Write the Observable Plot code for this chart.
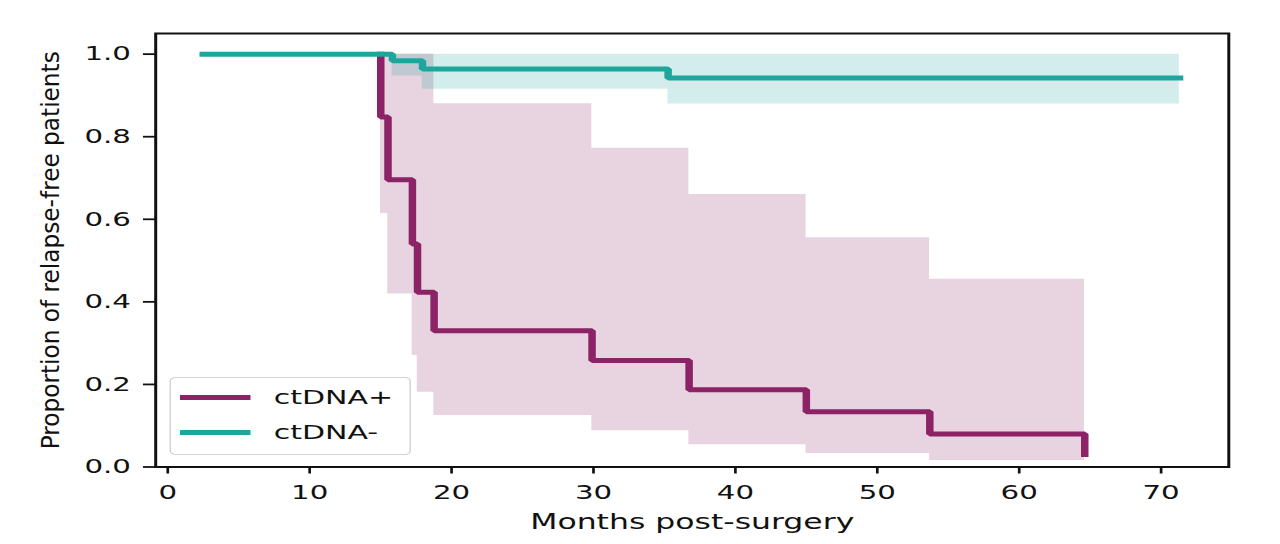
<!DOCTYPE html>
<html><head><meta charset="utf-8">
<script src="https://cdn.jsdelivr.net/npm/d3@7"></script>
<script src="https://cdn.jsdelivr.net/npm/@observablehq/plot@0.6"></script>
<style>
html,body{margin:0;padding:0;background:#fff;overflow:hidden}
#wrap{position:relative;width:853.33px;height:544px;transform:scale(1.5,1);transform-origin:0 0}
#legend{position:absolute;left:113.3px;top:377px;width:160.5px;height:78px;border:1px solid #d4d4d4;border-radius:4px;background:rgba(255,255,255,0.8);box-sizing:border-box;font-family:"DejaVu Sans";font-size:20px;color:#111}
.row{position:absolute;left:0;height:30px;display:flex;align-items:center}
.sw{width:46.7px;height:5px;margin-left:6.2px;margin-right:15.3px}
</style></head><body><div id="wrap"><div id="legend"></div></div>
<script>
// ctDNA+ Kaplan-Meier curve
const posTimes = [15.01, 15.01, 15.52, 17.24, 17.60, 18.77, 29.9, 36.74, 45.0, 53.7, 64.62];
const posSurv  = [1.0, 0.848, 0.696, 0.540, 0.423, 0.330, 0.258, 0.187, 0.134, 0.080, 0.030];
// ctDNA+ confidence band
const posCiTimes = [15.01, 15.52, 17.24, 17.60, 18.77, 29.9, 36.74, 45.0, 53.7, 64.62];
const posUpper   = [1.0, 1.0, 1.0, 1.0, 0.880, 0.772, 0.660, 0.555, 0.455, 0.455];
const posLower   = [0.614, 0.419, 0.270, 0.181, 0.125, 0.088, 0.054, 0.033, 0.016, 0.016];
// ctDNA- Kaplan-Meier curve
const negTimes = [2.5, 15.83, 17.95, 35.26, 71.3];
const negSurv  = [1.0, 0.984, 0.964, 0.942, 0.942];
// ctDNA- confidence band
const negCiTimes = [2.5, 15.83, 17.95, 35.26, 71.3];
const negUpper   = [1.0, 1.0, 1.0, 1.0, 1.0];
const negLower   = [1.0, 0.947, 0.915, 0.879, 0.879];

const xTicks = [0, 10, 20, 30, 40, 50, 60, 70];
const yTicks = [0, 0.2, 0.4, 0.6, 0.8, 1.0];
const seriesNames = ["ctDNA+", "ctDNA-"];
const seriesColors = ["#8B2366", "#1EA69C"];
const xLabel = "Months post-surgery";
const yLabel = "Proportion of relapse-free patients";

const chart = Plot.plot({
  width: 853,
  height: 544,
  marginTop: 33,
  marginBottom: 77.5,
  marginLeft: 103.3,
  marginRight: 34.3,
  x: {domain: [-0.85, 74.77]},
  y: {domain: [0, 1.05]},
  style: {fontFamily: "DejaVu Sans", fontSize: "19.5px", color: "#111", background: "#fff"},
  marks: [
    Plot.areaY(posCiTimes, {x: posCiTimes, y1: posLower, y2: posUpper, curve: "step-after", fill: seriesColors[0], fillOpacity: 0.2}),
    Plot.areaY(negCiTimes, {x: negCiTimes, y1: negLower, y2: negUpper, curve: "step-after", fill: seriesColors[1], fillOpacity: 0.2}),
    Plot.line(posTimes, {x: posTimes, y: posSurv, curve: "step-after", stroke: seriesColors[0], strokeWidth: 5, strokeLinecap: "square", strokeLinejoin: "miter"}),
    Plot.line(negTimes, {x: negTimes, y: negSurv, curve: "step-after", stroke: seriesColors[1], strokeWidth: 5, strokeLinecap: "square", strokeLinejoin: "miter"}),
    Plot.frame({stroke: "#111", strokeWidth: 2}),
    Plot.axisX({ticks: xTicks, tickSize: 7, tickPadding: 11, tickFormat: d => String(d), label: null, strokeWidth: 1.8}),
    Plot.axisY({ticks: yTicks, tickSize: 8, tickPadding: 8.5, tickFormat: d => d.toFixed(1), label: null, strokeWidth: 1.8}),
    Plot.text([yLabel], {frameAnchor: "left", dx: -70, rotate: -90, fontSize: 17, fill: "#111"}),
    Plot.text([xLabel], {frameAnchor: "bottom", dy: 61.5, fontSize: 21, fill: "#111"})
  ]
});

chart.querySelectorAll("text").forEach(t => {
  if (t.textContent === yLabel) {
    t.setAttribute("text-anchor", "start");
    t.setAttribute("x", -199);
    t.setAttribute("textLength", 398);
    t.setAttribute("lengthAdjust", "spacingAndGlyphs");
  }
});

const wrap = document.getElementById("wrap");
wrap.insertBefore(chart, wrap.firstChild);

const legend = document.getElementById("legend");
seriesNames.forEach((name, i) => {
  const row = document.createElement("div");
  row.className = "row";
  row.style.top = (i === 0 ? 4 : 39) + "px";
  const sw = document.createElement("div");
  sw.className = "sw";
  sw.style.background = seriesColors[i];
  const lab = document.createElement("span");
  lab.textContent = name;
  row.appendChild(sw);
  row.appendChild(lab);
  legend.appendChild(row);
});
</script>
</body></html>
